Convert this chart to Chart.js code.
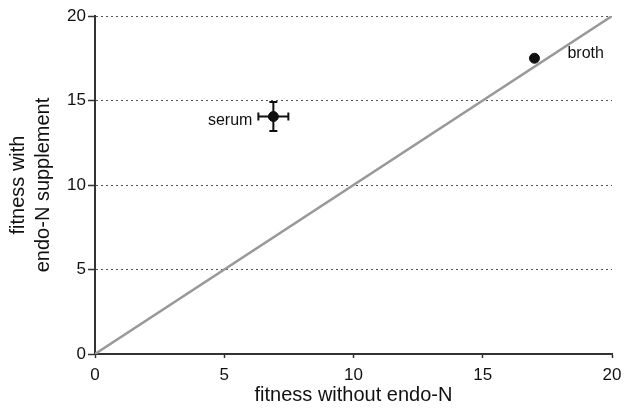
<!DOCTYPE html>
<html>
<head>
<meta charset="utf-8">
<script src="https://cdn.jsdelivr.net/npm/chart.js@4"></script>
<style>
  html, body { margin: 0; padding: 0; background: #fff; }
  #wrap { width: 625px; height: 414px; }
</style>
</head>
<body>
<div id="wrap"><canvas id="myChart" width="625" height="414"></canvas></div>
<script>
// dados
const nomes = ['serum', 'broth'];
const semEndo = [6.9, 17.0];
const comEndo = [14.05, 17.5];
const erroX = [0.58, 0];
const erroY = [0.86, 0];
const linhaX = [0, 20];
const linhaY = [0, 20];
const ticksEixo = [0, 5, 10, 15, 20];

const fonte = "'Liberation Sans', Arial, Helvetica, sans-serif";

const pontos = semEndo.map((x, i) => ({ x: x, y: comEndo[i] }));
const diagonal = linhaX.map((x, i) => ({ x: x, y: linhaY[i] }));

// barras de erro + rotulos dos pontos
const extras = {
    id: 'extras',
    afterDatasetsDraw(chart) {
        const ctx = chart.ctx;
        const sx = chart.scales.x;
        const sy = chart.scales.y;
        ctx.save();
        ctx.strokeStyle = '#111';
        ctx.lineWidth = 2;
        pontos.forEach((p, i) => {
            const cx = sx.getPixelForValue(p.x);
            const cy = sy.getPixelForValue(p.y);
            if (erroX[i] > 0) {
                const x1 = sx.getPixelForValue(p.x - erroX[i]);
                const x2 = sx.getPixelForValue(p.x + erroX[i]);
                ctx.beginPath();
                ctx.moveTo(x1, cy); ctx.lineTo(x2, cy);
                ctx.moveTo(x1, cy - 4); ctx.lineTo(x1, cy + 4);
                ctx.moveTo(x2, cy - 4); ctx.lineTo(x2, cy + 4);
                ctx.stroke();
            }
            if (erroY[i] > 0) {
                const y1 = sy.getPixelForValue(p.y - erroY[i]);
                const y2 = sy.getPixelForValue(p.y + erroY[i]);
                ctx.beginPath();
                ctx.moveTo(cx, y1); ctx.lineTo(cx, y2);
                ctx.moveTo(cx - 4, y1); ctx.lineTo(cx + 4, y1);
                ctx.moveTo(cx - 4, y2); ctx.lineTo(cx + 4, y2);
                ctx.stroke();
            }
        });
        ctx.fillStyle = '#111';
        ctx.font = '16px ' + fonte;
        ctx.textBaseline = 'alphabetic';
        // serum a esquerda, broth acima a direita
        let p = pontos[0];
        ctx.textAlign = 'right';
        ctx.fillText(nomes[0], sx.getPixelForValue(p.x - erroX[0]) - 6, sy.getPixelForValue(p.y) + 8);
        p = pontos[1];
        ctx.textAlign = 'left';
        ctx.fillText(nomes[1], sx.getPixelForValue(p.x) + 33, sy.getPixelForValue(p.y) + 0);
        ctx.restore();
    }
};

const config = {
    type: 'scatter',
    data: {
        datasets: [{
            label: 'y = x',
            data: diagonal,
            showLine: true,
            borderColor: '#999',
            borderWidth: 2.5,
            pointRadius: 0,
            order: 2
        }, {
            label: 'pontos',
            data: pontos,
            backgroundColor: '#111',
            borderColor: '#111',
            pointRadius: 5,
            order: 1
        }]
    },
    plugins: [extras],
    options: {
        responsive: false,
        animation: false,
        layout: { padding: { top: 16, right: 13, left: 0, bottom: 0 } },
        plugins: {
            legend: { display: false },
            tooltip: { enabled: false }
        },
        scales: {
            x: {
                type: 'linear',
                min: 0,
                max: 20,
                afterFit: (s) => { s.height = 60; s.paddingRight = 0; s.paddingLeft = 0; },
                afterBuildTicks: (s) => { s.ticks = ticksEixo.map(v => ({ value: v })); },
                grid: {
                    drawOnChartArea: false,
                    tickColor: '#333',
                    tickLength: 4,
                    tickWidth: 1.5
                },
                border: { color: '#333', width: 2 },
                ticks: { color: '#111', font: { size: 17, family: fonte }, padding: 7 },
                title: {
                    display: true,
                    text: 'fitness without endo-N',
                    color: '#111',
                    font: { size: 20, family: fonte, lineHeight: 1.2 },
                    padding: { top: 0, bottom: 7 }
                }
            },
            y: {
                type: 'linear',
                min: 0,
                max: 20,
                afterFit: (s) => { s.width = 95; },
                afterBuildTicks: (s) => { s.ticks = ticksEixo.map(v => ({ value: v })); },
                grid: {
                    color: (c) => c.tick && c.tick.value === 0 ? 'rgba(0,0,0,0)' : '#555',
                    lineWidth: 1,
                    tickColor: '#333',
                    tickLength: 7,
                    tickWidth: 1.5
                },
                border: { color: '#333', width: 2, dash: [2, 3] },
                ticks: { color: '#111', font: { size: 17, family: fonte }, padding: 2 },
                title: {
                    display: true,
                    text: ['fitness with', 'endo-N supplement'],
                    color: '#111',
                    font: { size: 20, family: fonte, lineHeight: 1.25 },
                    padding: { top: 6, bottom: 0 }
                }
            }
        }
    }
};

const myChart = new Chart(document.getElementById('myChart'), config);
</script>
</body>
</html>
